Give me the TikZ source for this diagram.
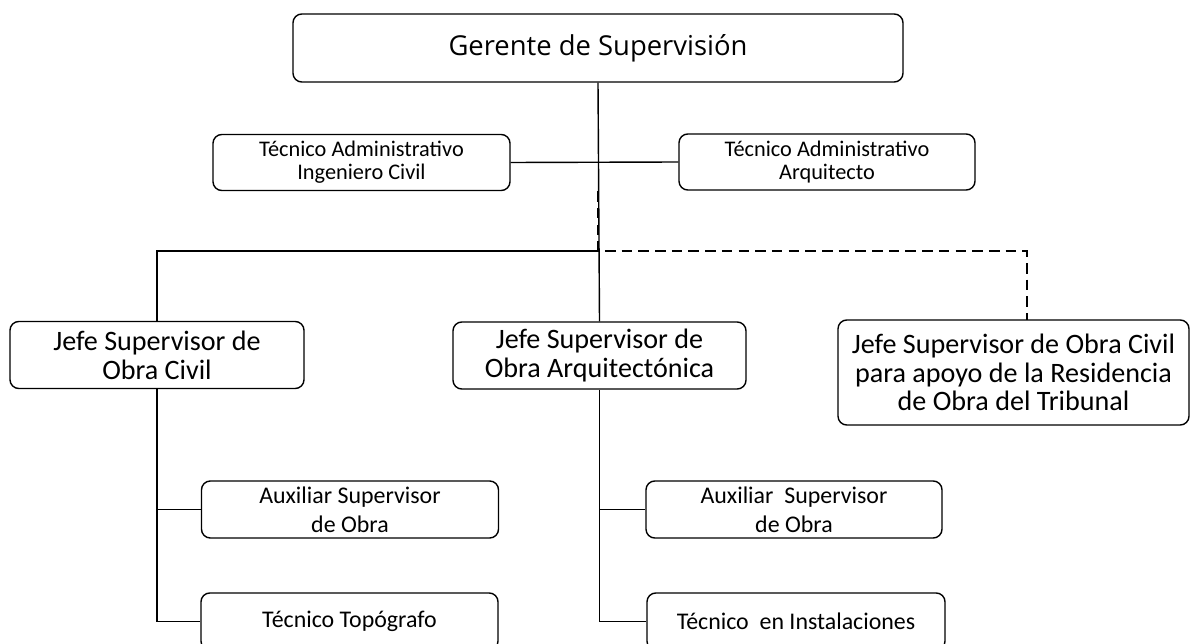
\documentclass[tikz,border=0pt]{standalone}
\usepackage{fontspec}
\setmainfont{Carlito}
\newfontfamily\titlefont{Open Sans}
\usetikzlibrary{positioning}

\begin{document}
\begin{tikzpicture}[
    box/.style={draw, rounded corners=5pt, line width=0.8pt, align=center,
                inner sep=0pt, fill=white},
    bigbox/.style={box, font=\fontsize{16}{16.4}\selectfont},
    smallbox/.style={box, minimum width=5.94cm, minimum height=1.12cm,
                font=\fontsize{12.7}{13.2}\selectfont},
    subbox/.style={box, minimum width=5.94cm, minimum height=1.14cm,
                font=\fontsize{13.6}{16.4}\selectfont},
    link/.style={line width=0.8pt},
    dlink/.style={line width=0.8pt, dash pattern=on 6pt off 3.5pt}
]
\useasboundingbox (0,0) rectangle (23.98,-12.88);
\clip (0,0) rectangle (23.98,-12.88);
% top level
\node[box, minimum width=12.2cm, minimum height=1.36cm,
      font=\titlefont\fontsize{15.6}{18}\selectfont] (ger) at (11.96,-0.96) {Gerente de Supervisión};
% staff
\node[smallbox] (tai) at (7.23,-3.25)  {Técnico Administrativo\\Ingeniero Civil};
\node[smallbox, minimum width=5.92cm] (tar) at (16.54,-3.24) {Técnico Administrativo\\Arquitecto};
% chiefs
\node[bigbox, minimum width=5.88cm, minimum height=1.34cm] (jciv) at (3.14,-7.1) {Jefe Supervisor de\\Obra Civil};
\node[bigbox, minimum width=5.86cm, minimum height=1.34cm] (jarq) at (11.99,-7.11) {Jefe Supervisor de\\Obra Arquitectónica};
\node[bigbox, minimum width=7.02cm, minimum height=2.1cm] (japo) at (20.27,-7.45)
    {Jefe Supervisor de Obra Civil\\para apoyo de la Residencia\\de Obra del Tribunal};
% assistants
\node[subbox] (auxc) at (7.0,-10.19)   {Auxiliar Supervisor\\de Obra};
\node[subbox] (topo) at (6.99,-12.43)  {Técnico Topógrafo};
\node[subbox, minimum width=5.92cm] (auxa) at (15.88,-10.19) {Auxiliar\ \ Supervisor\\de Obra};
\node[subbox, minimum width=5.96cm] (inst) at (15.92,-12.43) {Técnico\ \ en Instalaciones};

\coordinate (bar) at (ger.south |- 0,-5.02);
\coordinate (apotop) at (20.54,-6.4);

% connectors
\draw[link] (ger.south) -- (jarq.north);
\draw[link] (tai.east) -- (tar.west);
\draw[link] (bar) -| (jciv.north);
\draw[dlink] (ger.south |- tai.south) -- (bar) -| (apotop);
\draw[link] (jciv.south) |- (topo.west);
\draw[link] (jciv.south |- auxc.west) -- (auxc.west);
\draw[link] (jarq.south) |- (inst.west);
\draw[link] (jarq.south |- auxa.west) -- (auxa.west);
\end{tikzpicture}
\end{document}
